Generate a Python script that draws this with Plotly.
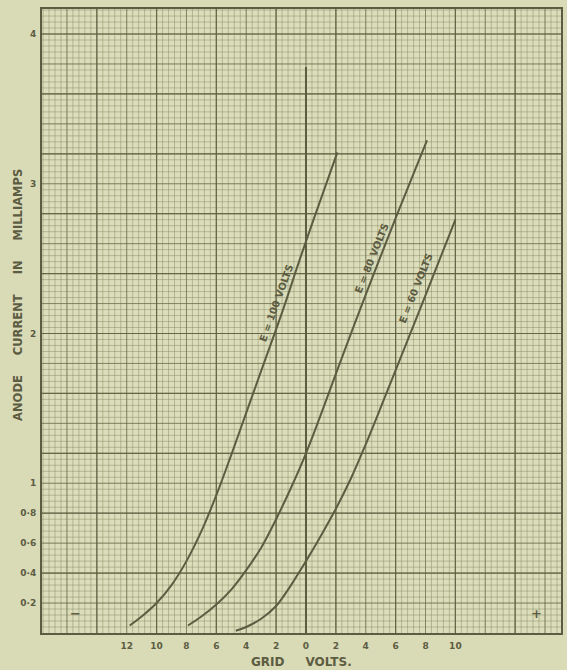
import plotly.graph_objects as go

# ---- data ----
grid_volts_e100 = [-11.8, -11.0, -10.0, -9.0, -8.0, -7.0, -6.0, -5.0, -4.0, -3.0, -1.5, -0.5, 0.4, 2.1]
anode_ma_e100 = [0.05, 0.11, 0.20, 0.32, 0.48, 0.68, 0.92, 1.19, 1.47, 1.75, 2.17, 2.47, 2.73, 3.21]

grid_volts_e80 = [-7.9, -7.0, -6.0, -5.0, -4.0, -3.0, -2.0, -1.0, 0.0, 1.0, 2.0, 4.0, 6.0, 8.1]
anode_ma_e80 = [0.05, 0.11, 0.19, 0.29, 0.42, 0.57, 0.76, 0.97, 1.20, 1.46, 1.73, 2.26, 2.77, 3.29]

grid_volts_e60 = [-4.7, -4.0, -3.0, -2.0, -1.0, 0.0, 1.0, 2.0, 3.0, 4.0, 5.3, 7.7, 10.0]
anode_ma_e60 = [0.015, 0.04, 0.095, 0.18, 0.32, 0.48, 0.65, 0.83, 1.03, 1.26, 1.58, 2.18, 2.76]

x_tick_vals = [-12, -10, -8, -6, -4, -2, 0, 2, 4, 6, 8, 10]
x_tick_text = ["12", "10", "8", "6", "4", "2", "0", "2", "4", "6", "8", "10"]
y_tick_vals = [0.2, 0.4, 0.6, 0.8, 1, 2, 3, 4]
y_tick_text = ["0·2", "0·4", "0·6", "0·8", "1", "2", "3", "4"]

curve_labels = ["E = 100 VOLTS", "E = 80 VOLTS", "E = 60 VOLTS"]
zero_line_top = 3.78

# ---- style ----
PAPER = "#d9dab6"
INK = "#5c5c42"
X_RANGE = [-17.67, 17.07]
Y_RANGE = [0.0, 4.167]

fig = go.Figure()

for vx, iy in [(grid_volts_e100, anode_ma_e100),
               (grid_volts_e80, anode_ma_e80),
               (grid_volts_e60, anode_ma_e60)]:
    fig.add_trace(go.Scatter(x=vx, y=iy, mode="lines",
                             line=dict(color=INK, width=2, shape="spline", smoothing=1.0),
                             showlegend=False, hoverinfo="skip"))

# zero grid-volts reference line
fig.add_trace(go.Scatter(x=[0, 0], y=[0, zero_line_top], mode="lines",
                         line=dict(color=INK, width=2), showlegend=False, hoverinfo="skip"))

# ---- graph-paper grid as shapes ----
shapes = []
def vlines(step, start, color, width):
    v = start
    while v > X_RANGE[0]:
        v -= step
    v += step
    while v < X_RANGE[1]:
        shapes.append(dict(type="line", xref="x", yref="paper", x0=v, x1=v, y0=0, y1=1,
                           line=dict(color=color, width=width), layer="below"))
        v += step

def hlines(step, color, width):
    n = int(Y_RANGE[1] / step) + 1
    for k in range(1, n + 1):
        v = k * step
        if v < Y_RANGE[1]:
            shapes.append(dict(type="line", xref="paper", yref="y", x0=0, x1=1, y0=v, y1=v,
                               line=dict(color=color, width=width), layer="below"))

vlines(0.4, 0.0, "rgba(120,124,90,0.40)", 1)
hlines(0.04, "rgba(120,124,90,0.40)", 1)
vlines(2.0, 0.0, "rgba(100,102,72,0.60)", 1)
hlines(0.2, "rgba(100,102,72,0.60)", 1)
vlines(4.0, 2.0, "rgba(92,94,64,0.80)", 1.2)
hlines(0.4, "rgba(92,94,64,0.80)", 1.2)

fig.update_layout(shapes=shapes)

# ---- annotations ----
ann_font = dict(family="DejaVu Sans", size=10, color=INK)
label_pos = [(-2.0, 2.2, -70), (4.4, 2.5, -68), (7.35, 2.3, -68)]
anns = []
for txt, (ax_, ay_, ang) in zip(curve_labels, label_pos):
    anns.append(dict(x=ax_, y=ay_, xref="x", yref="y", text="<b>" + txt + "</b>",
                     textangle=ang, showarrow=False, font=ann_font))
anns.append(dict(x=-15.4, y=0.13, xref="x", yref="y", text="<b>−</b>", showarrow=False,
                 font=dict(family="DejaVu Sans", size=13, color=INK)))
anns.append(dict(x=15.4, y=0.13, xref="x", yref="y", text="<b>+</b>", showarrow=False,
                 font=dict(family="DejaVu Sans", size=13, color=INK)))
anns.append(dict(x=0.5, y=-0.032, xref="paper", yref="paper", yanchor="top", xanchor="center",
                 text="<b>GRID&nbsp;&nbsp;&nbsp;&nbsp;&nbsp;VOLTS.</b>", showarrow=False,
                 font=dict(family="DejaVu Sans", size=12, color=INK)))
anns.append(dict(x=-0.046, y=0.542, xref="paper", yref="paper", xanchor="center", yanchor="middle",
                 text="<b>ANODE&nbsp;&nbsp;&nbsp;&nbsp;&nbsp;CURRENT&nbsp;&nbsp;&nbsp;&nbsp;&nbsp;IN&nbsp;&nbsp;&nbsp;&nbsp;&nbsp;MILLIAMPS</b>",
                 textangle=-90, showarrow=False,
                 font=dict(family="DejaVu Sans", size=11.5, color=INK)))
fig.update_layout(annotations=anns)

tick_font = dict(family="DejaVu Sans", size=9, color=INK)
fig.update_xaxes(range=X_RANGE, tickmode="array", tickvals=x_tick_vals,
                 ticktext=["<b>" + t + "</b>" for t in x_tick_text],
                 showgrid=False, zeroline=False, ticks="", tickfont=tick_font,
                 ticklabelstandoff=3, showline=True, linecolor=INK, linewidth=2, mirror=True)
fig.update_yaxes(range=Y_RANGE, tickmode="array", tickvals=y_tick_vals,
                 ticktext=["<b>" + t + "</b>" for t in y_tick_text],
                 showgrid=False, zeroline=False, ticks="", tickfont=tick_font,
                 ticklabelstandoff=2, showline=True, linecolor=INK, linewidth=2, mirror=True)

fig.update_layout(width=567, height=670, margin=dict(l=42, r=4, t=9, b=37),
                  paper_bgcolor=PAPER, plot_bgcolor="#dcddba", showlegend=False)

fig.write_html("out.html", config={"displayModeBar": False},
               post_script="document.body.style.margin='0';document.body.style.background='#d9dab6';document.body.style.overflow='hidden';")
